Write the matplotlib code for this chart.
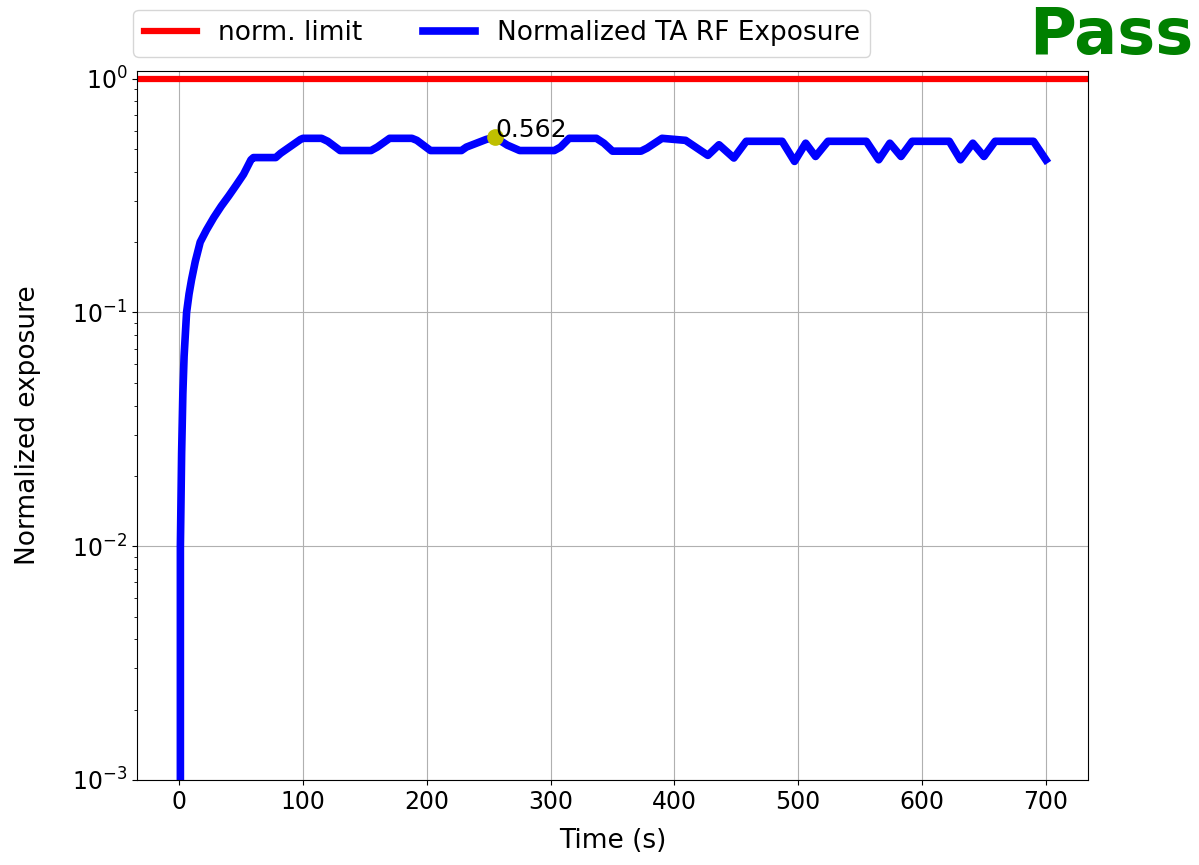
import matplotlib
matplotlib.use('Agg')
import matplotlib.pyplot as plt
import numpy as np

# tiempos (s) y exposicion normalizada
tiempo = [0, 1, 2, 3, 4, 6, 8, 10, 13, 17, 22, 28, 34, 40, 46, 52, 58, 60,
          78, 82, 98, 100, 115, 120, 130, 155, 160, 170, 188, 192, 203, 228,
          232, 248, 255, 265, 275, 303, 308, 315, 337, 343, 350, 373, 378,
          390, 409, 427, 436, 448, 458, 487, 497, 506, 514, 524, 555, 565,
          574, 583, 592, 622, 631, 641, 650, 659, 690, 700]
exposicion = [0.0, 0.01, 0.025, 0.045, 0.065, 0.1, 0.12, 0.138, 0.165, 0.2,
              0.225, 0.255, 0.285, 0.315, 0.35, 0.39, 0.45, 0.46,
              0.46, 0.48, 0.55, 0.556, 0.556, 0.54, 0.493, 0.493, 0.51, 0.556,
              0.556, 0.545, 0.493, 0.493, 0.51, 0.55, 0.562, 0.52, 0.493,
              0.493, 0.51, 0.556, 0.556, 0.53, 0.49, 0.49, 0.505, 0.556, 0.545,
              0.47, 0.522, 0.458, 0.54, 0.54, 0.443, 0.53, 0.465, 0.54, 0.54,
              0.45, 0.53, 0.465, 0.54, 0.54, 0.45, 0.53, 0.465, 0.54, 0.54,
              0.45]
limite = 1.0

t = np.array(tiempo)
v = np.array(exposicion)
i_max = int(np.argmax(v))

fig = plt.figure(figsize=(11.99, 8.65), dpi=100)
ax = fig.add_axes([0.1143, 0.0983, 0.7931, 0.8197])

ax.axhline(limite, color='red', linewidth=4.5, label='norm. limit')
ax.plot(t, v, color='blue', linewidth=5.5, label='Normalized TA RF Exposure')
ax.plot(t[i_max], v[i_max], 'o', color='y', markersize=11)
ax.text(t[i_max], v[i_max], f'{v[i_max]:.3f}', fontsize=18)

ax.set_yscale('log')
ax.set_ylim(1e-3, 1.08)
ax.set_xlim(-34, 734)
ax.grid(True)
ax.tick_params(labelsize=17)
ax.set_xlabel('Time (s)', fontsize=19, labelpad=10)
ax.set_ylabel('Normalized exposure', fontsize=19, labelpad=22)

ax.legend(loc='lower left', bbox_to_anchor=(-0.004, 1.02), ncol=2,
          fontsize=19, borderaxespad=0, columnspacing=2.3)

fig.text(0.858, 0.958, 'Pass', color='green', fontsize=46, fontweight='bold',
         va='center', ha='left')

fig.savefig('out.png', dpi=100)
